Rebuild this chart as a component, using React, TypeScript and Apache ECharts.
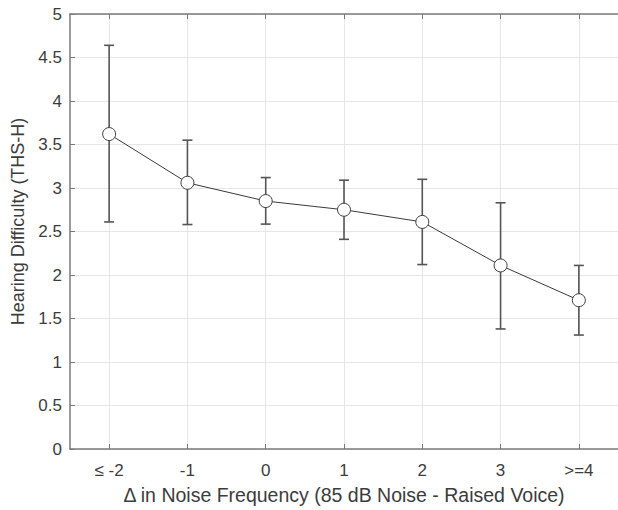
import React, { useEffect, useRef } from "react";
import * as echarts from "echarts";

const categories = ["≤ -2", "-1", "0", "1", "2", "3", ">=4"];
const means = [3.62, 3.06, 2.85, 2.75, 2.61, 2.11, 1.71];
const upper = [4.64, 3.55, 3.12, 3.09, 3.1, 2.83, 2.11];
const lower = [2.61, 2.58, 2.585, 2.41, 2.12, 1.38, 1.31];
const yTicks = { min: 0, max: 5, interval: 0.5 };
const xTitle = "Δ in Noise Frequency (85 dB Noise - Raised Voice)";
const yTitle = "Hearing Difficulty (THS-H)";

const FONT = "'Liberation Sans', Arial, Helvetica, sans-serif";
const TEXT = "#3c3c3c";
const AXIS = "#7a7a7a";
const GRID = "#e6e6e6";

export default function App() {
  const ref = useRef<HTMLDivElement>(null);
  useEffect(() => {
    if (!ref.current) return;
    const chart = echarts.init(ref.current, undefined, { renderer: "svg" });
    const errData = categories.map((c, i) => [i, lower[i], upper[i]]);
    chart.setOption({
      animation: false,
      backgroundColor: "#ffffff",
      textStyle: { fontFamily: FONT },
      grid: { left: 70, right: -8, top: 14, bottom: 57, containLabel: false },
      xAxis: [
        {
          type: "category",
          data: categories,
          boundaryGap: true,
          name: xTitle,
          nameLocation: "middle",
          nameGap: 36,
          nameTextStyle: { fontSize: 19.5, color: TEXT, fontFamily: FONT },
          axisLine: { show: true, lineStyle: { color: AXIS, width: 1.5 } },
          axisTick: { show: true, inside: true, alignWithLabel: true, length: 5, lineStyle: { color: AXIS } },
          axisLabel: { show: true, margin: 13, fontSize: 17, color: TEXT, fontFamily: FONT },
          splitLine: { show: false },
        },
        {
          type: "category",
          data: categories,
          position: "top",
          boundaryGap: true,
          axisLine: { show: true, lineStyle: { color: AXIS, width: 1.5 } },
          axisTick: { show: true, inside: true, alignWithLabel: true, length: 5, lineStyle: { color: AXIS } },
          axisLabel: { show: false },
          splitLine: { show: false },
        },
      ],
      yAxis: {
        type: "value",
        min: yTicks.min,
        max: yTicks.max,
        interval: yTicks.interval,
        name: yTitle,
        nameLocation: "middle",
        nameGap: 42,
        nameTextStyle: { fontSize: 18, color: TEXT, fontFamily: FONT, padding: [0, 0, 0, 20] },
        axisLine: { show: true, lineStyle: { color: AXIS, width: 1.5 } },
        axisTick: { show: true, inside: true, length: 5, lineStyle: { color: AXIS } },
        axisLabel: { margin: 8, fontSize: 17, color: TEXT, fontFamily: FONT },
        splitLine: { show: true, lineStyle: { color: GRID, width: 1 } },
      },
      series: [
        {
          type: "line",
          name: "vgrid",
          data: [],
          silent: true,
          z: 0,
          markLine: {
            silent: true,
            z: 0,
            symbol: ["none", "none"],
            label: { show: false },
            lineStyle: { color: GRID, width: 1, type: "solid" },
            data: categories.map((c) => ({ xAxis: c })),
          },
        },
        {
          type: "custom",
          name: "error",
          z: 3,
          data: errData,
          encode: { x: 0, y: [1, 2] },
          renderItem: (params: any, api: any) => {
            const x = api.value(0);
            const lo = api.coord([x, api.value(1)]);
            const hi = api.coord([x, api.value(2)]);
            const hw = 5;
            const style = { stroke: "#555555", lineWidth: 1.6, fill: "none" };
            return {
              type: "group",
              children: [
                { type: "line", shape: { x1: lo[0], y1: lo[1], x2: hi[0], y2: hi[1] }, style },
                { type: "line", shape: { x1: hi[0] - hw, y1: hi[1], x2: hi[0] + hw, y2: hi[1] }, style },
                { type: "line", shape: { x1: lo[0] - hw, y1: lo[1], x2: lo[0] + hw, y2: lo[1] }, style },
              ],
            };
          },
        },
        {
          type: "line",
          name: "mean",
          z: 5,
          data: means,
          symbol: "circle",
          symbolSize: 13,
          showAllSymbol: true,
          lineStyle: { color: "#3a3a3a", width: 1 },
          itemStyle: { color: "#ffffff", borderColor: "#3a3a3a", borderWidth: 1 },
        },
      ],
    });
    return () => chart.dispose();
  }, []);
  return (
    <div
      ref={ref}
      style={{ position: "absolute", left: 0, top: 0, width: 618, height: 510, background: "#fff" }}
    />
  );
}
